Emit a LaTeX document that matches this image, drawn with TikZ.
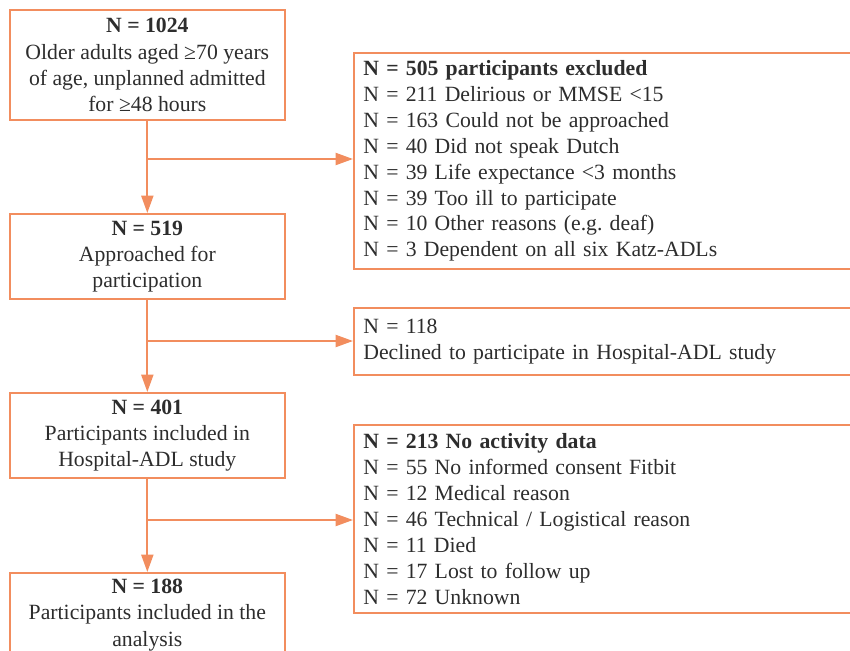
\documentclass[tikz,border=0pt]{standalone}
\usepackage{fontspec}
\setmainfont{Liberation Serif}
\usetikzlibrary{arrows.meta}
\definecolor{boxorange}{RGB}{242,141,94}
\definecolor{inkgray}{RGB}{45,45,45}
\tikzset{
  stagebox/.style={draw=boxorange, line width=1.5pt, align=center, anchor=north west,
    minimum width=206pt, inner sep=0pt, text=inkgray, font=\fontsize{16.3}{19.6}\selectfont},
  dropbox/.style={draw=boxorange, line width=1.5pt, align=left, anchor=north west,
    text width=375pt, inner xsep=7pt, inner ysep=0pt, text=inkgray, font=\fontsize{16.3}{19.4}\selectfont},
  flow/.style={draw=boxorange, line width=1.5pt, -{Triangle[length=13pt,width=9pt]}}
}
\begin{document}
\begin{tikzpicture}[x=0.75pt,y=-0.75pt]
\clip (0,0) rectangle (850,650);
% main stages
\node[stagebox, minimum height=82.5pt] (b1) at (9,9) {\textbf{N = 1024}\\Older adults aged ≥70 years\\of age, unplanned admitted\\for ≥48 hours};
\node[stagebox, minimum height=63.75pt] (b2) at (9,213) {\textbf{N = 519}\\Approached for\\participation};
\node[stagebox, minimum height=63.75pt] (b3) at (9,392) {\textbf{N = 401}\\Participants included in\\Hospital-ADL study};
\node[stagebox, minimum height=63pt] (b4) at (9,572) {\textbf{N = 188}\\Participants included in the\\analysis};
% exclusions
\node[dropbox, minimum height=162pt] (e1) at (353,52) {\textbf{N = 505 participants excluded}\\N = 211 Delirious or MMSE <15\\N = 163 Could not be approached\\N = 40 Did not speak Dutch\\N = 39 Life expectance <3 months\\N = 39 Too ill to participate\\N = 10 Other reasons (e.g.\ deaf)\\N = 3 Dependent on all six Katz-ADLs};
\node[dropbox, minimum height=50pt] (e2) at (353,307) {N = 118\\Declined to participate in Hospital-ADL study};
\node[dropbox, minimum height=141pt] (e3) at (353,424) {\textbf{N = 213 No activity data}\\N = 55 No informed consent Fitbit\\N = 12 Medical reason\\N = 46 Technical / Logistical reason\\N = 11 Died\\N = 17 Lost to follow up\\N = 72 Unknown};
% branch points
\coordinate (j1) at (146,159);
\coordinate (j2) at (146,341);
\coordinate (j3) at (146,520);
\draw[flow] (b1) -- (b2);
\draw[flow] (b2) -- (b3);
\draw[flow] (b3) -- (b4);
\draw[flow] (j1) -- (j1 -| e1.west);
\draw[flow] (j2) -- (j2 -| e2.west);
\draw[flow] (j3) -- (j3 -| e3.west);
\end{tikzpicture}
\end{document}
